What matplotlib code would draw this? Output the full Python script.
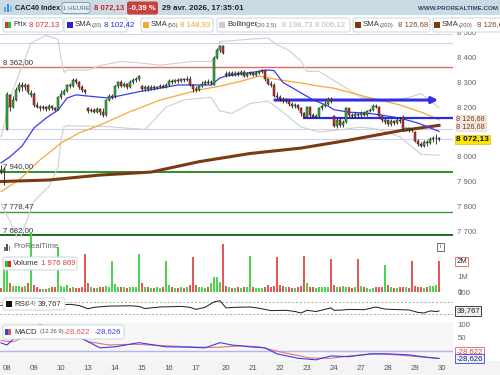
import matplotlib
matplotlib.use('Agg')
import matplotlib.pyplot as plt
import numpy as np
from matplotlib.patches import Rectangle, FancyBboxPatch
from matplotlib.transforms import blended_transform_factory as btf

plt.rcParams['font.family'] = ['Liberation Sans', 'DejaVu Sans']

# ---------------- data ----------------
opens = [7948, 7938, 8112, 8250, 8200, 8230, 8270, 8290, 8280, 8290, 8250,
         8255, 8210, 8200, 8195, 8200, 8192, 8205, 8195, 8190,
         8240, 8255, 8265, 8290, 8285, 8310, 8300, 8280, 8268,
         8195, 8185, 8190, 8182, 8192, 8180, 8170, 8230, 8240,
         8246, 8285, 8300, 8285, 8292, 8280, 8300, 8308, 8312,
         8285, 8272, 8280, 8275, 8282, 8276, 8280, 8285, 8282,
         8290, 8305, 8300, 8308, 8305, 8312, 8308, 8315, 8288,
         8275, 8270, 8285, 8295, 8300, 8298, 8290, 8400, 8430, 8448,
         8335, 8330, 8338, 8332, 8340, 8335, 8342, 8328, 8335,
         8338, 8332, 8340, 8345, 8350, 8312, 8295, 8290, 8245,
         8240, 8232, 8225, 8230, 8215, 8205, 8210, 8198, 8175,
         8160, 8200, 8170, 8162, 8165, 8195, 8205, 8215, 8235,
         8165, 8125, 8150, 8128, 8140, 8195, 8170, 8165, 8172,
         8168, 8178, 8170, 8185, 8190, 8205, 8200, 8165, 8140,
         8148, 8132, 8145, 8138, 8150, 8160, 8110, 8115, 8112,
         8100, 8065, 8050, 8045, 8060, 8055, 8070, 8075, 8076]
highs = [7965, 7960, 8262, 8255, 8245, 8280, 8300, 8300, 8298, 8295, 8270,
         8260, 8220, 8210, 8208, 8205, 8212, 8210, 8200, 8245,
         8268, 8272, 8295, 8298, 8320, 8318, 8305, 8288, 8275,
         8200, 8195, 8198, 8200, 8198, 8195, 8235, 8255, 8255,
         8290, 8305, 8310, 8300, 8298, 8310, 8318, 8322, 8332,
         8290, 8288, 8288, 8290, 8288, 8286, 8292, 8292, 8296,
         8312, 8312, 8315, 8318, 8318, 8320, 8325, 8325, 8292,
         8285, 8290, 8305, 8310, 8312, 8308, 8405, 8440, 8452, 8452,
         8345, 8345, 8345, 8348, 8345, 8350, 8352, 8342, 8345,
         8343, 8348, 8352, 8355, 8355, 8315, 8305, 8298, 8262,
         8248, 8240, 8238, 8235, 8222, 8218, 8215, 8202, 8180,
         8205, 8205, 8175, 8172, 8200, 8212, 8225, 8240, 8242,
         8170, 8158, 8155, 8148, 8200, 8198, 8178, 8180, 8178,
         8185, 8185, 8190, 8198, 8212, 8215, 8205, 8170, 8158,
         8150, 8152, 8150, 8158, 8160, 8168, 8122, 8120, 8118,
         8105, 8070, 8060, 8068, 8068, 8078, 8085, 8090, 8080]
lows = [7930, 7885, 8110, 8185, 8195, 8225, 8260, 8265, 8270, 8255, 8240,
        8200, 8195, 8185, 8188, 8185, 8188, 8188, 8183, 8188,
        8235, 8248, 8260, 8278, 8280, 8295, 8275, 8262, 8255,
        8178, 8180, 8178, 8178, 8170, 8162, 8165, 8225, 8232,
        8238, 8278, 8280, 8280, 8275, 8276, 8295, 8300, 8305,
        8265, 8265, 8265, 8268, 8270, 8272, 8276, 8276, 8278,
        8285, 8294, 8296, 8298, 8300, 8302, 8305, 8285, 8262,
        8262, 8265, 8280, 8288, 8292, 8290, 8288, 8395, 8425, 8415,
        8322, 8325, 8325, 8328, 8328, 8330, 8322, 8322, 8330,
        8326, 8328, 8335, 8338, 8305, 8288, 8282, 8240, 8235,
        8225, 8218, 8218, 8205, 8196, 8195, 8188, 8165, 8155,
        8155, 8162, 8156, 8155, 8160, 8188, 8200, 8208, 8218,
        8120, 8118, 8120, 8120, 8135, 8162, 8158, 8158, 8160,
        8162, 8165, 8165, 8180, 8185, 8195, 8160, 8142, 8132,
        8125, 8125, 8128, 8132, 8138, 8105, 8102, 8100, 8100,
        8058, 8042, 8038, 8040, 8045, 8050, 8060, 8052, 8062]
closes = [7940, 7952, 8255, 8200, 8230, 8270, 8290, 8280, 8290, 8262, 8258,
          8210, 8200, 8195, 8200, 8192, 8205, 8195, 8190, 8240,
          8255, 8265, 8290, 8285, 8310, 8300, 8280, 8268, 8262,
          8185, 8190, 8182, 8192, 8180, 8170, 8230, 8245, 8246,
          8285, 8300, 8285, 8292, 8280, 8300, 8308, 8312, 8325,
          8272, 8280, 8275, 8282, 8276, 8280, 8285, 8282, 8290,
          8305, 8300, 8308, 8305, 8312, 8308, 8315, 8288, 8275,
          8270, 8285, 8295, 8300, 8298, 8300, 8400, 8430, 8448, 8420,
          8330, 8338, 8332, 8340, 8335, 8342, 8328, 8335, 8338,
          8332, 8340, 8345, 8350, 8312, 8295, 8290, 8245, 8240,
          8232, 8225, 8230, 8215, 8205, 8210, 8198, 8175, 8160,
          8200, 8170, 8162, 8165, 8195, 8205, 8215, 8235, 8225,
          8125, 8150, 8128, 8140, 8195, 8170, 8165, 8172, 8168,
          8178, 8170, 8185, 8190, 8205, 8200, 8165, 8150, 8148,
          8132, 8145, 8138, 8150, 8145, 8110, 8115, 8108, 8106,
          8065, 8050, 8045, 8060, 8055, 8070, 8075, 8076, 8072.13]
volumes = [0.28, 1.40, 1.42, 0.55, 0.38, 0.36, 0.36, 0.35, 0.36, 0.55, 3.90,
           0.45, 0.30, 0.22, 0.20, 0.22, 0.25, 0.35, 0.30, 2.90,
           0.40, 0.30, 0.45, 0.28, 0.30, 0.25, 0.28, 0.35, 2.45,
           0.55, 0.30, 0.25, 0.28, 0.30, 0.35, 0.40, 0.30, 2.00,
           0.50, 0.30, 0.35, 0.30, 0.28, 0.32, 0.30, 0.35, 2.45,
           0.55, 0.35, 0.30, 0.28, 0.25, 0.30, 0.28, 0.32, 2.00,
           0.45, 0.30, 0.25, 0.28, 0.30, 0.25, 0.30, 0.45, 2.25,
           0.45, 0.35, 0.30, 0.28, 0.35, 0.55, 0.95, 1.00, 0.65, 3.10,
           0.40, 0.30, 0.28, 0.25, 0.30, 0.28, 0.35, 0.30, 2.30,
           0.35, 0.25, 0.25, 0.28, 0.35, 0.45, 0.30, 0.40, 2.25,
           0.45, 0.40, 0.30, 0.32, 0.28, 0.25, 0.30, 0.40, 2.30,
           0.60, 0.35, 0.30, 0.28, 0.30, 0.32, 0.30, 0.35, 2.15,
           0.45, 0.35, 0.30, 0.40, 0.35, 0.30, 0.28, 0.30, 2.10,
           0.40, 0.30, 0.25, 0.22, 0.25, 0.30, 0.35, 0.30, 1.75,
           0.45, 0.30, 0.28, 0.25, 0.30, 0.35, 0.30, 0.28, 2.00,
           0.40, 0.35, 0.30, 0.28, 0.35, 0.38, 0.40, 0.45, 1.976869]

sma20_idx = [0, 3, 7, 11, 15, 19, 22, 25, 29, 36, 39, 47, 53, 59, 64, 70, 73, 75,
             82, 89, 91, 94, 99, 104, 109, 111, 116, 122, 127, 133, 139, 146]
sma20 = [7975, 8000, 8043, 8116, 8156, 8188, 8237, 8250, 8245, 8237, 8245, 8265,
         8277, 8290, 8290, 8290, 8318, 8326, 8338, 8350, 8348, 8300, 8265, 8230,
         8205, 8190, 8180, 8176, 8168, 8156, 8136, 8102.42]
sma50_idx = [0, 6, 13, 20, 26, 33, 43, 53, 66, 73, 80, 86, 93, 100, 106, 111,
             122, 133, 141, 146]
sma50 = [7859, 7906, 7987, 8055, 8096, 8128, 8182, 8229, 8270, 8285, 8305, 8326,
         8310, 8298, 8285, 8277, 8241, 8209, 8176, 8148.93]
sma200_idx = [0, 16, 33, 50, 66, 83, 100, 116, 133, 146]
sma200 = [7900, 7906, 7926, 7938, 7980, 8013, 8035, 8067, 8105, 8126.68]
bb_up_idx = [0, 4, 10, 15, 19, 20, 21, 22, 29, 33, 40, 47, 53, 59, 64, 70, 72, 73,
             80, 89, 92, 96, 100, 102, 106, 110, 116, 120, 126, 130, 136, 140, 146]
bb_up = [8080, 8270, 8460, 8490, 8475, 8400, 8340, 8350, 8350, 8368, 8385, 8378,
         8370, 8378, 8385, 8385, 8410, 8465, 8472, 8480, 8452, 8430, 8386, 8345,
         8345, 8315, 8270, 8240, 8225, 8225, 8240, 8255, 8198.73]
bb_lo_idx = [0, 3, 6, 11, 16, 19, 20, 21, 22, 35, 48, 55, 61, 70, 73, 77, 83, 89,
             94, 100, 106, 114, 120, 126, 133, 140, 146]
bb_lo = [7810, 7740, 7660, 7820, 7880, 7958, 8067, 8120, 8125, 8122, 8110, 8200,
         8230, 8240, 8185, 8175, 8215, 8225, 8180, 8120, 8100, 8110, 8120, 8110,
         8080, 8010, 8006.12]

rsi_idx = [0, 3, 10, 16, 23, 26, 29, 31, 36, 43, 46, 48, 53, 60, 63, 65, 68, 71,
           73, 75, 78, 83, 86, 90, 95, 98, 100, 102, 105, 110, 111, 114, 116, 121,
           125, 128, 133, 136, 139, 141, 143, 145, 146]
rsi = [58, 62, 60, 58, 62, 58, 47, 52, 56, 57, 55, 48, 53, 55, 52, 45, 52, 70,
       74, 50, 52, 53, 49, 41, 42, 38, 33, 42, 38, 50, 42, 43, 45, 44,
       53, 46, 44, 43, 35, 33, 40, 38, 39.767]

macd_idx = [0, 2, 4, 7, 13, 19, 24, 28, 33, 38, 46, 55, 62, 68, 73, 77, 83, 88,
            92, 99, 105, 110, 116, 123, 129, 136, 142, 146]
macd = [31, 23, 45, 85, 100, 90, 65, 42, 12, 16, 32, 16, 15, 12, 32, 23, 16, 12,
        -11, -28, -34, -19, -22, -11, -11, -15, -24, -28.626]
signal_idx = [0, 4, 8, 14, 20, 26, 29, 36, 44, 55, 65, 72, 80, 86, 94, 103, 110,
              116, 125, 132, 139, 146]
signal = [40, 35, 55, 80, 80, 55, 36, 23, 26, 20, 15, 14, 20, 16, -6, -27, -28,
          -19, -11, -15, -22, -28.622]

day_labels = ['08', '09', '10', '13', '14', '15', '16', '17', '20', '21', '22',
              '23', '24', '27', '28', '29', '30']
day_first_candle = [2, 11, 20, 29, 38, 47, 56, 65, 75, 84, 93, 102, 111, 120,
                    129, 138, 147]

level_red = 8362.00
levels_green = [7940.00, 7778.47, 7682.00]
levels_light = [8494, 8459, 8112, 8072.13]
support_level, support_from = 8156, 100.7
arrow_level, arrow_from, arrow_to = 8229, 91.3, 145.7

price_ticks = [7700, 7800, 7900, 8000, 8200, 8300, 8400, 8500]

# ---------------- figure ----------------
W, H = 500, 375
FS = 5.6
fig = plt.figure(figsize=(5, 3.75), dpi=100)
fig.patch.set_facecolor('white')


def fx(px):
    return px / W


def fy(py):
    return 1 - py / H


def axes_px(x0, y0, x1, y1, fc='white'):
    a = fig.add_axes([fx(x0), fy(y1), (x1 - x0) / W, (y1 - y0) / H])
    a.set_facecolor(fc)
    for s in a.spines.values():
        s.set_visible(False)
    return a


XL = (-1 / 3, 452 / 3)
ax_p = axes_px(0, 15, 453, 237)
ax_v = axes_px(0, 237, 453, 292)
ax_r = axes_px(0, 292, 453, 322)
ax_m = axes_px(0, 322, 453, 361, fc='#f7f7f7')
for a in (ax_p, ax_v, ax_r, ax_m):
    a.set_xlim(*XL)
    a.yaxis.tick_right()
    a.tick_params(axis='y', length=0, pad=3.2, labelsize=FS, labelcolor='#666666')
    a.tick_params(axis='x', length=0)
    a.set_xticks([])

# date strip background
fig.patches.append(Rectangle((0, 0), 1, fy(361), transform=fig.transFigure,
                             fc='#f4f4f4', ec='none', zorder=-5))

x = np.arange(len(closes))
o = np.array(opens, float)
c = np.array(closes, float)
hi = np.array(highs, float)
lo = np.array(lows, float)
up = c >= o

# ---- price panel ----
ax_p.set_ylim(7675.8, 8572.5)
ax_p.set_yticks(price_ticks)
ax_p.set_yticklabels([f"{t:,}".replace(',', ' ') for t in price_ticks])

for lv in levels_light:
    ax_p.axhline(lv, color='#cfd0f2', lw=0.8, zorder=1)
ax_p.axhline(level_red, color='#e06a6a', lw=1.0, zorder=1)
ax_p.axhline(levels_green[0], color='#2f8f2f', lw=1.4, zorder=1)
ax_p.axhline(levels_green[1], color='#3c9c3c', lw=1.0, zorder=1)
ax_p.axhline(levels_green[2], color='#1f6f1f', lw=1.4, zorder=1)

ax_p.plot(bb_up_idx, bb_up, color='#cfcfcf', lw=0.8, zorder=2)
ax_p.plot(bb_lo_idx, bb_lo, color='#cfcfcf', lw=0.8, zorder=2)
ax_p.plot(sma50_idx, sma50, color='#f5a936', lw=0.9, zorder=2)
ax_p.plot(sma200_idx, sma200, color='#7a3b12', lw=2.2, zorder=2)
ax_p.plot(sma20_idx, sma20, color='#3a3af2', lw=0.9, zorder=2)

ax_p.hlines(support_level, support_from, XL[1], color='#2a2ae6', lw=1.6, zorder=3)
ax_p.annotate('', xy=(arrow_to, arrow_level), xytext=(arrow_from, arrow_level),
              arrowprops=dict(arrowstyle='-|>', color='#3030e6', lw=2.2,
                              mutation_scale=9, shrinkA=0, shrinkB=0), zorder=3)

body_col = np.where(up, '#2cbf2c', '#cf2e2e')
ax_p.vlines(x, lo, hi, color='#1e1e1e', lw=0.6, zorder=4)
ax_p.bar(x, np.maximum(np.abs(c - o), 1.5), bottom=np.minimum(o, c), width=0.66,
         color=body_col, edgecolor='#1e1e1e', linewidth=0.35, zorder=5)

lbl_kw = dict(fontsize=FS, color='#333333', va='bottom', ha='left')
trp = btf(ax_p.transAxes, ax_p.transData)
ax_p.text(0.006, level_red + 6, '8 362,00', transform=trp, **lbl_kw)
ax_p.text(0.006, levels_green[0] + 6, '7 940,00', transform=trp, **lbl_kw)
ax_p.text(0.006, levels_green[1] + 6, '7 778,47', transform=trp, **lbl_kw)
ax_p.text(0.006, levels_green[2] + 6, '7 682,00', transform=trp, **lbl_kw)

rx = 456.5 / 453
box_kw = dict(va='center', ha='left', clip_on=False, zorder=6)
ax_p.text(rx, 8153, '8 126,68', transform=trp, fontsize=5.3, color='#7a3b12',
          bbox=dict(boxstyle='square,pad=0.05', fc='#f3ebe3', ec='#e0d0c0', lw=0.4),
          **box_kw)
ax_p.text(rx, 8120, '8 126,68', transform=trp, fontsize=5.3, color='#7a3b12',
          bbox=dict(boxstyle='square,pad=0.05', fc='#f3ebe3', ec='#e0d0c0', lw=0.4),
          **box_kw)
ax_p.text(rx, closes[-1] - 3, '8 072,13', transform=trp, fontsize=6.0, color='#111111',
          fontweight='bold',
          bbox=dict(boxstyle='square,pad=0.12', fc='#ffe600', ec='#c8b400', lw=0.4),
          **box_kw)

# ---- volume panel ----
ax_v.set_ylim(0, 55 / 15.5)
ax_v.set_yticks([0, 1])
ax_v.set_yticklabels(['0', '1M'])
vol_col = np.where(up, '#4fd24f', '#e05a5a')
ax_v.bar(x, volumes, width=0.72, color=vol_col, linewidth=0, clip_on=False, zorder=3)
trv = btf(ax_v.transAxes, ax_v.transData)
ax_v.text(rx, volumes[-1], '2M', transform=trv, fontsize=FS, color='#222222',
          bbox=dict(boxstyle='square,pad=0.15', fc='white', ec='#e06060', lw=0.6),
          **box_kw)

# ---- RSI panel ----
ax_r.set_ylim(3, 103)
ax_r.set_yticks([100])
ax_r.set_yticklabels(['100'])
ax_r.axhline(70, color='#aaaaaa', lw=0.7, ls=(0, (2, 2)))
ax_r.axhline(30, color='#aaaaaa', lw=0.7, ls=(0, (2, 2)))
ax_r.plot(rsi_idx, rsi, color='#1a1a1a', lw=0.7)
trr = btf(ax_r.transAxes, ax_r.transData)
ax_r.text(rx, rsi[-1], '39,767', transform=trr, fontsize=FS, color='#222222',
          bbox=dict(boxstyle='square,pad=0.15', fc='#f0f0f0', ec='#222222', lw=0.6),
          **box_kw)

# ---- MACD panel ----
ax_m.set_ylim(-38.5, 111.5)
ax_m.set_yticks([50, 100])
ax_m.set_yticklabels(['50', '100'])
ax_m.axhline(0, color='#b4b4f0', lw=1.0)
ax_m.plot(signal_idx, signal, color='#ee7070', lw=0.8)
ax_m.plot(macd_idx, macd, color='#3a3af0', lw=0.8)
trm = btf(ax_m.transAxes, ax_m.transData)
ax_m.text(rx, signal[-1] + 27, '-28,622', transform=trm, fontsize=FS, color='#d04040',
          bbox=dict(boxstyle='square,pad=0.15', fc='white', ec='#e06060', lw=0.6),
          **box_kw)
ax_m.text(rx, macd[-1], '-28,626', transform=trm, fontsize=FS, color='#222244',
          bbox=dict(boxstyle='square,pad=0.15', fc='#eef0ff', ec='#3a3af0', lw=0.6),
          **box_kw)
ax_m.set_xticks(day_first_candle)
ax_m.set_xticklabels(day_labels)
ax_m.tick_params(axis='x', labelsize=FS, labelcolor='#555555', pad=3)

# ---------------- overlays: header & legends ----------------


def rect(x0, y0, x1, y1, fc, ec='none', lw=0.0, z=1, rounded=False):
    if rounded:
        p = FancyBboxPatch((fx(x0), fy(y1)), (x1 - x0) / W, (y1 - y0) / H,
                           boxstyle='round,pad=0,rounding_size=0.005',
                           transform=fig.transFigure, fc=fc, ec=ec, lw=lw, zorder=z)
    else:
        p = Rectangle((fx(x0), fy(y1)), (x1 - x0) / W, (y1 - y0) / H,
                      transform=fig.transFigure, fc=fc, ec=ec, lw=lw, zorder=z)
    fig.patches.append(p)


def t(px, py, s, size=FS, color='#333333', weight='normal', ha='left'):
    fig.text(fx(px), fy(py), s, fontsize=size, color=color, fontweight=weight,
             ha=ha, va='center', zorder=5)


# header bar
rect(0, 0, 500, 15, '#cbdbe5', z=1)
for i, (hh, cc) in enumerate([(5, '#5fa8e0'), (8, '#3d8ad0'), (6, '#7fbdf0')]):
    rect(4 + i * 3, 12 - hh, 6 + i * 3, 12, cc, z=2)
t(15, 8, 'CAC40 Index', size=5.3, color='#222222', weight='bold')
rect(62, 2.5, 90, 13.5, '#e3ecf2', ec='#7b97a8', lw=0.6, z=2, rounded=True)
t(76, 8, '1 HEURE', size=4.4, color='#52707f', ha='center')
t(94, 8, '8 072,13', size=5.6, color='#cc2020', weight='bold')
rect(127, 1.5, 158, 14.5, '#c84141', z=2, rounded=True)
t(142.5, 8, '-0,39 %', size=5.6, color='white', weight='bold', ha='center')
t(162, 8, '29 avr. 2026, 17:35:01', size=5.8, color='#222222', weight='bold')
t(498, 9, 'WWW.PROREALTIME.COM', size=4.5, color='#34495e', weight='bold', ha='right')

# price legend row
LY0, LY1, LYC = 18, 32, 25


def lbox(x0, x1):
    rect(x0, LY0, x1, LY1, 'white', ec='#c8d6df', lw=0.7, z=2, rounded=True)


def icon(x0, cols):
    n = len(cols)
    for i, cc in enumerate(cols):
        rect(x0 + i * 6 / n, LYC - 3, x0 + (i + 1) * 6 / n, LYC + 3, cc, z=3)


lbox(3, 63)
icon(5, ['#d63030', '#2cbf2c'])
t(13, LYC, 'Prix', color='#333333')
t(29, LYC, '8 072,13', color='#d03030')
lbox(64, 127)
icon(67, ['#2222dd'])
t(75, LYC, 'SMA', color='#333333')
t(92, LYC, '(20)', size=4.2, color='#555555')
t(104, LYC, '8 102,42', color='#2828e0')
lbox(141, 213)
icon(143, ['#f5a936'])
t(151, LYC, 'SMA', color='#333333')
t(168, LYC, '(50)', size=4.2, color='#555555')
t(180, LYC, '8 148,93', color='#f0a030')
lbox(217, 350)
icon(219, ['#cccccc'])
t(227, LYC, 'Bollinger', color='#333333')
t(256, LYC, '(20 2,5)', size=4.2, color='#555555')
t(282, LYC, '8 198,73', color='#b8b8b8')
t(315, LYC, '8 006,12', color='#b8b8b8')
lbox(353, 430)
icon(355, ['#7a3b12'])
t(362.5, LYC, 'SMA', color='#333333')
t(379.5, LYC, '(200)', size=4.2, color='#555555')
t(398, LYC, '8 126,68', color='#8b4513')
lbox(433, 510)
icon(434, ['#7a3b12'])
t(442, LYC, 'SMA', color='#333333')
t(459, LYC, '(200)', size=4.2, color='#555555')
t(477, LYC, '8 126,68', color='#8b4513')

# watermark & info
for i, (hh, cc) in enumerate([(4, '#777777'), (7, '#555555'), (5, '#888888')]):
    rect(4 + i * 2.3, 251 - hh, 5.5 + i * 2.3, 251, cc, z=2)
t(13, 247, 'ProRealTime', size=5.6, color='#666666')
rect(437, 243, 444, 250.5, 'white', ec='#555555', lw=0.6, z=2)
t(440.5, 246.8, 'i', size=4.5, color='#444444', ha='center')

# volume legend
rect(3, 257, 77, 270, 'white', ec='#c8d6df', lw=0.7, z=2, rounded=True)
rect(5, 260.5, 8, 266.5, '#2cbf2c', z=3)
rect(8, 260.5, 11, 266.5, '#d63030', z=3)
t(13, 263.5, 'Volume', color='#333333')
t(41, 263.5, '1 976 869', color='#d04040')

# RSI legend
rect(3, 298, 65, 310, 'white', ec='#c8d6df', lw=0.7, z=2, rounded=True)
rect(6, 301, 12, 307, '#111111', z=3)
t(14, 304, 'RSI', color='#333333')
t(26, 304, '(14)', size=4.2, color='#555555')
t(38, 304, '39,767', color='#333333')

# MACD legend
rect(3, 325, 124, 339, 'white', ec='#c8d6df', lw=0.7, z=2, rounded=True)
rect(5, 329, 8, 335, '#3a3af0', z=3)
rect(8, 329, 11, 335, '#e05a5a', z=3)
t(14, 332, 'MACD', color='#333333')
t(40, 332, '(12 26 9)', size=4.2, color='#555555')
t(64, 332, '-28,622', color='#e05050')
t(95, 332, '-28,626', color='#4040e0')

fig.savefig('out.png', dpi=100)
